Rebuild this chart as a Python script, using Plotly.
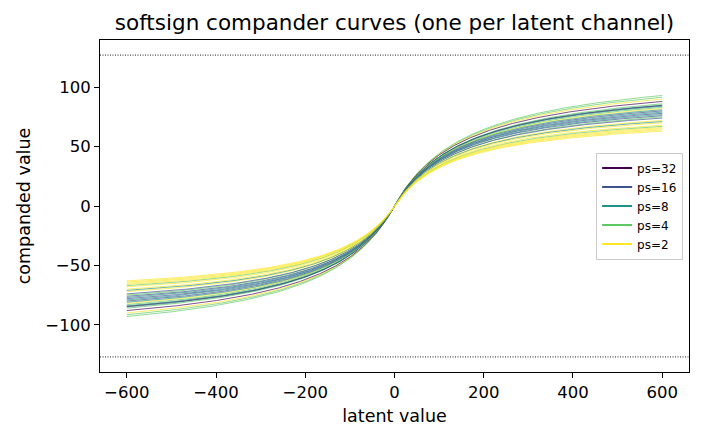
import numpy as np
import plotly.graph_objects as go

# per-channel compander: value reached at latent = 600, knee of the softsign, and ps group
end_values = [93, 91.5, 90, 88, 86, 85, 84.5, 84, 83, 82, 81, 80, 79, 78, 77, 76,
              75, 74, 72, 71, 70, 68, 67, 66, 65, 64, 63]
knees = [170, 168, 165, 160, 165, 160, 160, 158, 160, 160, 155, 155, 155, 152, 152, 150,
         155, 150, 150, 148, 148, 145, 148, 145, 145, 143, 142]
ps_groups = [4, 4, 2, 32, 4, 8, 32, 8, 4, 2, 8, 16, 8, 16, 8, 16,
             4, 16, 2, 8, 2, 2, 4, 2, 2, 2, 2]
legend_ps = [32, 16, 8, 4, 2]
colors = {32: "#440154", 16: "#3b528b", 8: "#21918c", 4: "#5ec962", 2: "#fde725"}
clip_level = 127
x_min, x_max = -600, 600

xs = np.linspace(x_min, x_max, 401)

fig = go.Figure()
for ev, k, ps in zip(end_values, knees, ps_groups):
    amp = ev * (x_max + k) / x_max
    y = amp * xs / (np.abs(xs) + k)
    fig.add_trace(go.Scatter(x=xs, y=y, mode="lines", showlegend=False,
                             line=dict(color=colors[ps], width=0.8), opacity=0.85,
                             hoverinfo="skip"))

for ps in legend_ps:
    fig.add_trace(go.Scatter(x=[None], y=[None], mode="lines", name=f"ps={ps}",
                             line=dict(color=colors[ps], width=2)))

for lvl in (clip_level, -clip_level):
    fig.add_shape(type="line", xref="paper", x0=0, x1=1, yref="y", y0=lvl, y1=lvl,
                  line=dict(color="black", width=0.9, dash="1px,1.5px"))

axis_common = dict(showline=True, linecolor="black", linewidth=1, mirror=True,
                   ticks="outside", ticklen=5, tickcolor="black", showgrid=False,
                   zeroline=False, tickfont=dict(size=16.5, color="black"))

fig.update_layout(
    width=702, height=442,
    margin=dict(l=100, r=13, t=40, b=70),
    paper_bgcolor="white", plot_bgcolor="white",
    font=dict(family="DejaVu Sans", color="black"),
    title=dict(text="softsign compander curves (one per latent channel)",
               x=0.562, xanchor="center", y=0.95, yanchor="middle",
               font=dict(size=21.5)),
    xaxis=dict(range=[-660, 660], tickvals=[-600, -400, -200, 0, 200, 400, 600],
               title=dict(text="latent value", font=dict(size=17.5), standoff=8),
               **axis_common),
    yaxis=dict(range=[-139.7, 139.7], tickvals=[-100, -50, 0, 50, 100],
               title=dict(text="companded value", font=dict(size=17.5), standoff=10),
               **axis_common),
    legend=dict(x=0.99, xanchor="right", y=0.5, yanchor="middle",
                bgcolor="rgba(255,255,255,0.8)", bordercolor="#cccccc", borderwidth=1,
                font=dict(size=12), itemwidth=30, tracegroupgap=0),
)

fig.write_html("out.html")
